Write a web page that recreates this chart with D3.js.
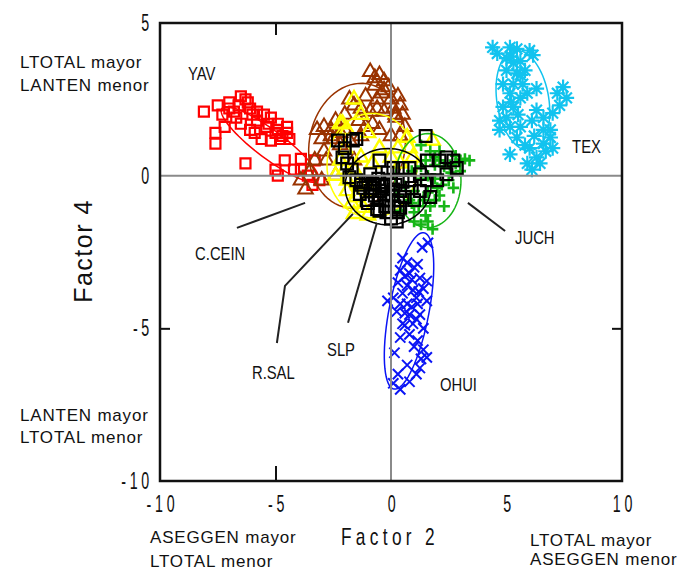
<!DOCTYPE html>
<html>
<head>
<meta charset="utf-8">
<script src="https://cdn.jsdelivr.net/npm/d3@7"></script>
<style>
  body { margin: 0; background: #fff; }
  text { font-family: "Liberation Sans", Arial, sans-serif; fill: #111; }
</style>
</head>
<body>
<svg id="chart" width="677" height="571"></svg>
<script>
// Factor 2 (x) / Factor 4 (y) scores per locality
const yav = [
  [-8.1, 2.1], [-7.5, 2.3], [-6.5, 2.6], [-6.3, 2.5], [-7.0, 2.4], [-7.3, 2.0],
  [-6.8, 2.1], [-6.1, 2.2], [-5.8, 2.1], [-5.5, 2.0], [-5.2, 1.9], [-4.9, 1.7],
  [-4.5, 1.6], [-7.6, 1.4], [-7.6, 1.05], [-7.2, 1.6], [-6.5, 1.7], [-6.1, 1.5],
  [-5.6, 1.2], [-5.2, 1.15], [-4.8, 1.2], [-4.4, 1.2], [-4.5, 1.4], [-6.3, 0.4],
  [-5.0, 0.2], [-4.9, 0.0], [-4.6, 0.5], [-3.9, 0.55], [-3.9, 0.2], [-3.3, 0.5],
  [-3.6, 0.0], [-3.1, -0.15], [-5.8, 1.8], [-5.4, 1.6], [-4.9, 1.5], [-6.7, 1.9],
  [-6.6, 2.3], [-6.0, 2.0], [-5.3, 1.7], [-5.0, 1.4], [-5.9, 1.4], [-7.0, 2.2],
  [-6.2, 2.4], [-4.7, 1.3], [-4.2, 0.2], [-3.4, -0.3]
];
const ccein = [
  [-0.9, 3.4], [-0.5, 3.3], [-0.7, 2.95], [-0.3, 2.8], [-1.1, 2.6], [-0.6, 2.5],
  [0.0, 2.5], [0.4, 2.3], [-0.3, 2.1], [-0.9, 2.1], [-1.6, 2.3], [-2.0, 2.0],
  [-2.4, 1.8], [-2.9, 1.6], [-3.2, 1.5], [-2.6, 1.3], [-2.0, 1.5], [-1.4, 1.8],
  [-0.8, 1.7], [0.2, 1.9], [0.6, 1.6], [-2.2, 1.0], [-2.9, 0.8], [-3.3, 0.5],
  [-3.5, 0.15], [-3.0, -0.15], [-2.4, 0.0], [-1.8, 1.15], [-1.3, 1.3], [-0.5, 1.5],
  [0.0, 1.3], [-1.6, 0.5], [-3.9, -0.15], [-3.7, -0.45], [-0.3, 3.1], [0.2, 2.0],
  [-1.8, 2.5], [-1.1, 1.6], [-2.5, 1.2], [-0.7, 3.2], [-0.4, 2.7], [-0.1, 2.9],
  [0.3, 2.6], [0.5, 2.0], [-0.6, 2.2], [-1.3, 2.2], [-2.6, 1.5], [-3.0, 1.2],
  [-2.8, 0.5], [-2.2, 1.4], [0.4, 1.3], [0.1, 2.2]
];
const rsal = [
  [-1.6, 2.5], [-1.3, 2.0], [-2.2, 1.7], [-1.9, 1.5], [-1.0, 1.4], [0.7, 1.25],
  [0.8, 0.9], [0.3, 0.9], [-1.9, -0.15], [-1.5, -0.7], [-1.2, -1.05], [-1.6, -1.25],
  [-1.9, -0.5], [-0.8, 0.4], [0.0, 0.6], [0.95, 0.6], [1.8, 1.15], [-2.1, 1.7],
  [-2.2, 0.5], [-2.4, 0.0], [-0.5, 0.9], [-1.6, 0.2], [-0.9, -0.5], [-1.3, 0.6],
  [0.4, 0.4], [-2.0, 0.9], [-1.0, -1.3], [-1.7, -0.9], [-1.4, -0.3], [-2.0, 0.2]
];
const juch = [
  [1.3, 1.0], [1.7, 0.8], [2.1, 0.8], [2.8, 0.65], [3.2, 0.55], [2.55, 0.35],
  [1.9, 0.35], [1.5, 0.5], [0.9, 0.15], [1.3, -0.1], [1.9, -0.1], [2.5, -0.15],
  [3.0, 0.15], [1.0, -0.5], [1.6, -0.55], [2.1, -0.65], [1.2, -1.0], [1.7, -1.0],
  [1.5, -1.3], [1.8, -1.75], [0.8, -0.8], [2.3, -1.0], [0.6, -0.35], [0.3, -0.65],
  [0.4, -1.15], [1.0, -1.5], [2.1, 0.5], [3.4, 0.5], [2.6, 0.1], [1.3, 0.3],
  [2.0, -0.4], [1.0, -1.2], [2.7, -0.4], [1.9, 0.6], [2.3, 0.3], [1.6, 0.0],
  [2.2, -0.3], [1.4, -0.8], [1.9, -0.8], [1.3, -1.6], [1.6, -1.5], [0.9, -0.9],
  [2.8, 0.4], [3.0, 0.5]
];
const slp = [
  [-2.3, 1.15], [-1.65, 1.15], [-1.5, 1.2], [-2.1, 0.6], [-1.9, 0.4], [-0.5, 0.5],
  [0.1, 0.25], [0.5, 0.25], [0.8, 0.25], [1.5, 1.3], [1.55, 0.5], [2.1, 0.5],
  [2.4, 0.6], [2.7, 0.5], [2.85, 0.25], [2.4, 0.05], [-1.2, -0.4], [-1.35, -0.6],
  [-0.5, -0.5], [0.0, -0.15], [0.4, -0.5], [-0.5, -1.15], [0.0, -1.4], [0.4, -1.05],
  [1.25, -0.5], [1.7, -0.7], [1.55, -0.15], [2.0, -0.15], [0.8, -0.15], [-0.9, 0.05],
  [-1.8, -0.05], [-1.5, -0.15], [-0.8, -0.25], [0.25, -1.5], [-0.5, -0.8], [-1.05, -0.8],
  [1.25, 0.05], [-0.25, -0.35], [-0.7, -0.65], [0.05, -0.65], [-0.25, -1.0], [-0.9, -0.5],
  [0.15, -1.0], [-0.55, -0.1], [-0.15, 0.1], [-1.1, -0.2], [-0.8, -0.4], [-0.4, -0.3],
  [0.2, -0.3], [0.5, -0.2], [-1.0, -0.9], [-0.6, -1.1], [-0.2, -1.2], [0.3, -0.8],
  [0.6, -0.7], [-0.3, -0.6], [0.1, -0.45], [-0.7, -0.3], [0.3, -1.2], [-0.1, -0.8],
  [0.9, -0.4], [1.0, -0.8], [-1.3, -0.3], [-2.0, 0.9], [-1.7, 0.2]
];
const tex = [
  [4.4, 4.2], [5.15, 4.2], [5.45, 4.15], [6.15, 3.95], [5.0, 3.85], [5.3, 3.7],
  [5.6, 3.75], [5.0, 3.45], [5.45, 3.35], [5.8, 3.45], [4.85, 3.0], [5.3, 3.0],
  [5.7, 3.0], [6.3, 2.85], [7.45, 2.9], [7.6, 2.55], [7.3, 2.3], [5.15, 2.7],
  [5.6, 2.55], [4.85, 2.25], [5.3, 2.25], [6.3, 2.15], [6.6, 1.9], [7.0, 2.05],
  [4.7, 1.5], [5.15, 1.6], [5.6, 1.6], [5.45, 1.25], [6.6, 1.5], [6.9, 1.25],
  [6.6, 1.05], [5.15, 0.7], [6.0, 0.9], [6.3, 0.6], [5.9, 0.4], [6.45, 0.4],
  [7.0, 0.9], [6.9, 1.5], [4.7, 1.8], [6.0, 4.1], [5.2, 3.9], [5.6, 3.3],
  [5.2, 2.4], [5.5, 2.0], [5.0, 1.9], [6.1, 1.8], [6.2, 1.3], [5.8, 1.0],
  [6.1, 0.2], [4.6, 4.0], [5.9, 2.7], [7.2, 2.7], [6.7, 0.8]
];
const ohui = [
  [1.6, -2.2], [1.35, -2.35], [0.5, -2.7], [0.7, -2.85], [1.15, -2.9], [0.4, -3.1],
  [0.8, -3.2], [1.25, -3.35], [1.55, -3.45], [0.1, -4.0], [0.5, -3.85], [0.95, -3.75],
  [1.4, -3.7], [0.7, -4.2], [1.15, -4.2], [1.55, -4.1], [0.25, -4.45], [0.8, -4.55],
  [1.25, -4.55], [0.5, -4.85], [0.95, -4.85], [1.4, -5.0], [0.8, -5.2], [1.15, -5.4],
  [0.15, -5.8], [1.55, -5.95], [1.25, -6.3], [0.8, -6.75], [0.1, -6.8], [0.4, -7.0],
  [-0.15, -4.1], [0.7, -3.6], [1.0, -3.0], [0.6, -4.5], [1.1, -4.0], [0.4, -5.3],
  [1.3, -6.0], [0.3, -3.5], [0.9, -3.4], [1.2, -3.8], [0.4, -4.2], [0.9, -4.3],
  [0.6, -4.9], [1.1, -4.7], [1.0, -5.6], [1.4, -5.7], [0.7, -6.2], [1.1, -6.5],
  [0.3, -6.5], [0.6, -3.3]
];

// ellipses: [centre x, centre y, half-axis u (x, y), half-axis v (x, y)]
const yavEllipse = [-5.24, 1.02, 2.08, -1.18, -0.36, -0.37];
const cceinEllipse = [-1.47, 0.98, 0.43, 2.03, 2.05, -0.25];
const rsalEllipse = [-0.82, 0.33, 0, 1.71, 1.95, 0];
const juchEllipse = [1.6, -0.16, 0, 1.54, 1.43, 0];
const slpEllipse = [-0.13, -0.36, 0, 1.25, 1.86, 0];
const texEllipse = [5.71, 2.46, -0.35, 1.64, 1.11, 0.13];
const ohuiEllipse = [0.78, -4.43, 0.65, 2.56, 0.85, -0.12];

// locality names, their anchor and leader lines (data units)
const names = ["YAV", "TEX", "C.CEIN", "R.SAL", "SLP", "JUCH", "OHUI"];
const namePos = [[-8.79, 3.12], [7.84, 0.75], [-8.48, -2.76], [-6.02, -6.66], [-2.77, -5.91], [5.37, -2.23], [2.12, -7.06]];
const leaders = [
  [[-6.67, -1.71], [-3.72, -0.89]],
  [[-4.94, -5.48], [-4.59, -3.61], [-1.65, -1.25]],
  [[-1.86, -4.82], [-0.61, -1.54]],
  [[3.33, -0.89], [4.94, -1.81]]
];

const xTicks = [-10, -5, 0, 5, 10];
const yTicks = [-10, -5, 0, 5];

const svg = d3.select("#chart");
const x = d3.scaleLinear().domain([-10, 10]).range([160, 622]);
const y = d3.scaleLinear().domain([-10, 5]).range([481, 23]);

// 8-spoke asterisk like the original TEX marker
const star8 = {
  draw(ctx, size) {
    const r = Math.sqrt(size) / 2;
    const d = r * Math.SQRT1_2;
    ctx.moveTo(-r, 0); ctx.lineTo(r, 0);
    ctx.moveTo(0, -r); ctx.lineTo(0, r);
    ctx.moveTo(-d, -d); ctx.lineTo(d, d);
    ctx.moveTo(-d, d); ctx.lineTo(d, -d);
  }
};

const groups = [
  { pts: tex, ell: texEllipse, color: "#12c3ef", symbol: star8, size: 230, width: 2.2 },
  { pts: ohui, ell: ohuiEllipse, color: "#0a14f5", symbol: d3.symbolTimes, size: 70, width: 2 },
  { pts: yav, ell: yavEllipse, color: "#ff0000", symbol: d3.symbolSquare2, size: 127, width: 2.2 },
  { pts: ccein, ell: cceinEllipse, color: "#993300", symbol: d3.symbolTriangle2, size: 150, width: 2 },
  { pts: rsal, ell: rsalEllipse, color: "#ffff00", symbol: d3.symbolTriangle2, size: 150, width: 2.4 },
  { pts: juch, ell: juchEllipse, color: "#16b516", symbol: d3.symbolPlus, size: 45, width: 2.6 },
  { pts: slp, ell: slpEllipse, color: "#000000", symbol: d3.symbolSquare2, size: 175, width: 2.2 }
];

const line = d3.line().x((d) => x(d[0])).y((d) => y(d[1]));

const ellipsePath = (e) => {
  const [cx, cy, ux, uy, vx, vy] = e;
  return d3.range(73).map((i) => {
    const t = (i / 72) * 2 * Math.PI;
    return [cx + ux * Math.cos(t) + vx * Math.sin(t), cy + uy * Math.cos(t) + vy * Math.sin(t)];
  });
};

groups.forEach((g) => {
  const layer = svg.append("g");
  layer
    .append("path")
    .attr("d", line(ellipsePath(g.ell)))
    .attr("fill", "none")
    .attr("stroke", g.color)
    .attr("stroke-width", 1.5);
  layer
    .selectAll("path.pt")
    .data(g.pts)
    .join("path")
    .attr("class", "pt")
    .attr("transform", (d) => `translate(${x(d[0])},${y(d[1])})`)
    .attr("d", d3.symbol(g.symbol, g.size))
    .attr("fill", "none")
    .attr("stroke", g.color)
    .attr("stroke-width", g.width);
});

// zero lines sit on top of the markers
svg.append("line")
  .attr("x1", x(-10)).attr("x2", x(10)).attr("y1", y(0)).attr("y2", y(0))
  .attr("stroke", "#8a8a8a").attr("stroke-width", 2);
svg.append("line")
  .attr("x1", x(0)).attr("x2", x(0)).attr("y1", y(5)).attr("y2", y(-10))
  .attr("stroke", "#8a8a8a").attr("stroke-width", 2);

const styleAxis = (g) => {
  g.select(".domain").remove();
  g.selectAll(".tick line")
    .attr("stroke", "#111")
    .attr("stroke-width", 2)
    .filter((d) => d === 0 || d === 10 || d === -10 || d === 5)
    .remove();
  g.attr("font-family", "Liberation Sans, Arial, sans-serif").attr("font-size", 23);
};

const xAxis = svg.append("g")
  .attr("transform", `translate(0,${y(-10)})`)
  .call(d3.axisBottom(x).tickValues(xTicks).tickSize(-15).tickPadding(15).tickFormat(String))
  .call(styleAxis);
xAxis.selectAll(".tick text")
  .attr("letter-spacing", 6)
  .attr("transform", "translate(2,0) scale(0.62,1)");

const yAxis = svg.append("g")
  .attr("transform", `translate(${x(-10)},0)`)
  .call(d3.axisLeft(y).tickValues(yTicks).tickSize(-10).tickPadding(8).tickFormat(String))
  .call(styleAxis);
yAxis.selectAll(".tick text")
  .attr("x", 0)
  .attr("letter-spacing", 6)
  .attr("transform", "translate(-7,0) scale(0.62,1)");

svg.append("g")
  .attr("transform", `translate(0,${y(5)})`)
  .call(d3.axisTop(x).tickValues([-5, 5]).tickSize(-12).tickFormat(""))
  .call(styleAxis);
svg.append("g")
  .attr("transform", `translate(${x(10)},0)`)
  .call(d3.axisRight(y).tickValues([-5]).tickSize(-10).tickFormat(""))
  .call(styleAxis);

// frame
svg.append("rect")
  .attr("x", x(-10)).attr("y", y(5))
  .attr("width", x(10) - x(-10)).attr("height", y(-10) - y(5))
  .attr("fill", "none").attr("stroke", "#111").attr("stroke-width", 2.5);

// axis titles
svg.append("text")
  .attr("transform", "translate(341,545) scale(0.72,1)")
  .attr("font-size", 24).attr("letter-spacing", 6)
  .text("Factor 2");
svg.append("text")
  .attr("transform", "translate(92,251) rotate(-90)")
  .attr("text-anchor", "middle")
  .attr("font-size", 25).attr("letter-spacing", 1.5)
  .text("Factor 4");

// side notes on the axis directions
const notes = [
  ["LTOTAL mayor", 20, 68], ["LANTEN menor", 20, 91],
  ["LANTEN mayor", 20, 421], ["LTOTAL menor", 20, 443],
  ["ASEGGEN mayor", 150, 543], ["LTOTAL menor", 150, 567],
  ["LTOTAL mayor", 530, 546], ["ASEGGEN menor", 530, 565]
];
svg.append("g")
  .selectAll("text")
  .data(notes)
  .join("text")
  .attr("x", (d) => d[1]).attr("y", (d) => d[2])
  .attr("font-size", 17).attr("letter-spacing", 0.8)
  .text((d) => d[0]);

// leader lines and locality names
svg.append("g")
  .selectAll("path")
  .data(leaders)
  .join("path")
  .attr("d", line)
  .attr("fill", "none").attr("stroke", "#222").attr("stroke-width", 2);

svg.append("g")
  .selectAll("text")
  .data(names)
  .join("text")
  .attr("transform", (d, i) => `translate(${x(namePos[i][0])},${y(namePos[i][1])}) scale(0.78,1)`)
  .attr("font-size", 19)
  .text((d) => d);
</script>
</body>
</html>
